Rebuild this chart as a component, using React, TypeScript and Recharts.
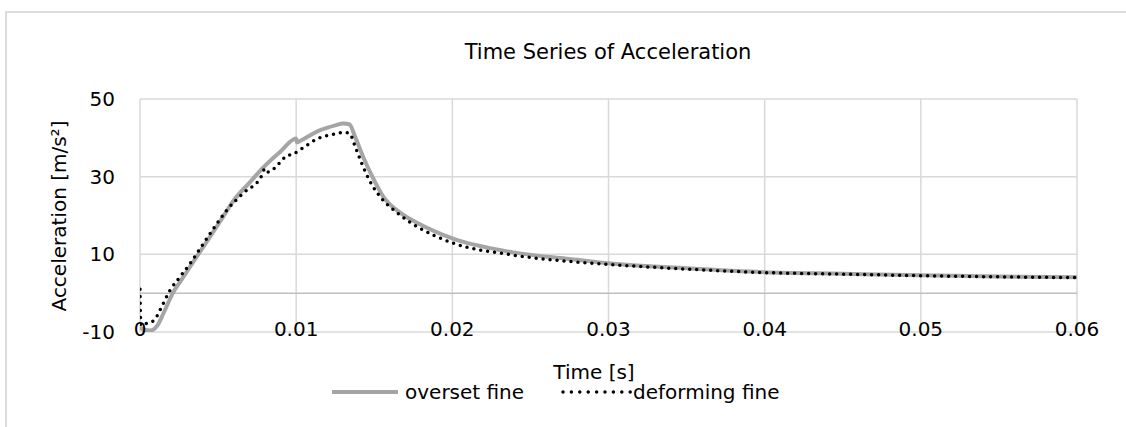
import { CartesianGrid, Label, Legend, Line, LineChart, ReferenceLine, XAxis, YAxis } from "recharts";

const FONT = "'DejaVu Sans', sans-serif";
const GRID = "#d9d9d9";
const COLORS = ["#a5a5a5", "#000000"];

const SERIES_NAMES = ["overset fine", "deforming fine"];
const X_TICKS = [0, 0.01, 0.02, 0.03, 0.04, 0.05, 0.06];
const Y_TICKS = [-10, 10, 30, 50];

// overset mesh, fine resolution
const oversetTime = [
  0, 0.0003, 0.0007, 0.0011, 0.0015, 0.0021, 0.0028, 0.0034, 0.0043, 0.0052,
  0.006, 0.007, 0.0079, 0.009, 0.01, 0.01005, 0.0103, 0.0115, 0.0125, 0.013,
  0.0134, 0.0138, 0.0143, 0.0149, 0.0156, 0.0167, 0.0178, 0.02, 0.0239, 0.028,
  0.03, 0.035, 0.04, 0.045, 0.05, 0.055, 0.06,
];
const oversetAccel = [
  -8.8, -9.5, -9.6, -8.4, -5.2, 0, 4.3, 8, 13.4, 18.9, 23.9, 28.4, 32.4, 36.5,
  39.8, 38.8, 39.3, 41.9, 43.2, 43.7, 43.5, 40, 35, 29.8, 24.7, 20.6, 18, 14.1,
  10.5, 8.6, 7.7, 6.4, 5.4, 5.0, 4.6, 4.3, 4.1,
];

// deforming mesh, fine resolution
const deformingTime = [
  0, 0.00005, 0.0004, 0.0009, 0.0013, 0.0019, 0.0026, 0.0032, 0.0037, 0.0046,
  0.0056, 0.0066, 0.0078, 0.008, 0.0082, 0.009, 0.0094, 0.0098, 0.0102, 0.0115,
  0.0125, 0.013, 0.0134, 0.0138, 0.0142, 0.0147, 0.0154, 0.0165, 0.0178, 0.0199,
  0.0239, 0.028, 0.03, 0.035, 0.04, 0.045, 0.05, 0.055, 0.06,
];
const deformingAccel = [
  1, -8.3, -7.8, -7.0, -4.2, 0.6, 4.4, 7.6, 10.6, 16.0, 21.6, 25.7, 30.3,
  32.1, 31.2, 33.8, 35.4, 35.8, 36.8, 40, 41, 41.4, 41.2, 37.5, 33.4, 29, 24.7,
  20.6, 17, 13.1, 9.8, 8.0, 7.4, 6.2, 5.3, 4.9, 4.5, 4.2, 4.0,
];

const oversetData = oversetTime.map((t, i) => ({ t, a: oversetAccel[i] }));
const deformingData = deformingTime.map((t, i) => ({ t, a: deformingAccel[i] }));

const XTick = ({ x, y, payload }: any) => (
  <text x={x} y={y + 4} textAnchor="middle" fill="#000" fontSize={20} fontFamily={FONT}>
    {String(payload.value)}
  </text>
);

const renderLegend = () => (
  <svg width={1126} height={30}>
    <line x1={332} x2={398} y1={14} y2={14} stroke={COLORS[0]} strokeWidth={4} />
    <text x={405} y={21} fontSize={20} fontFamily={FONT} fill="#000">
      {SERIES_NAMES[0]}
    </text>
    <line
      x1={563}
      x2={631}
      y1={14}
      y2={14}
      stroke={COLORS[1]}
      strokeWidth={3.5}
      strokeDasharray="0 8.4"
      strokeLinecap="round"
    />
    <text x={633} y={21} fontSize={20} fontFamily={FONT} fill="#000">
      {SERIES_NAMES[1]}
    </text>
  </svg>
);

export default function App() {
  return (
    <div
      style={{
        position: "absolute",
        left: 0,
        top: 0,
        width: 1126,
        height: 427,
        overflow: "hidden",
        background: "#fff",
        fontFamily: FONT,
      }}
    >
      <div
        style={{
          position: "absolute",
          left: 5,
          top: 11,
          width: 1200,
          height: 500,
          border: "2px solid #dcdcdc",
        }}
      />
      <div
        style={{
          position: "absolute",
          left: 608,
          top: 39,
          transform: "translateX(-50%)",
          fontSize: 21,
          lineHeight: "26px",
          whiteSpace: "nowrap",
          color: "#000",
        }}
      >
        Time Series of Acceleration
      </div>
      <div style={{ position: "absolute", left: 0, top: 0 }}>
        <LineChart width={1126} height={427} margin={{ top: 99, right: 49, bottom: 65, left: 0 }}>
          <CartesianGrid stroke={GRID} strokeWidth={1.5} />
          <XAxis
            type="number"
            dataKey="t"
            domain={[0, 0.06]}
            ticks={X_TICKS}
            axisLine={false}
            tickLine={false}
            tickSize={0}
            tickMargin={0}
            height={30}
            tick={<XTick />}
            allowDataOverflow
          >
            <Label
              content={() => (
                <text x={594} y={379} textAnchor="middle" fontSize={20} fontFamily={FONT} fill="#000">
                  Time [s]
                </text>
              )}
            />
          </XAxis>
          <YAxis
            type="number"
            domain={[-10, 50]}
            ticks={Y_TICKS}
            width={140}
            axisLine={false}
            tickLine={false}
            tickSize={0}
            tickMargin={25}
            tick={{ fill: "#000", fontSize: 20, fontFamily: FONT }}
            allowDataOverflow
          >
            <Label
              content={() => (
                <text
                  x={59}
                  y={216}
                  transform="rotate(-90, 59, 216)"
                  textAnchor="middle"
                  dominantBaseline="central"
                  fontSize={20}
                  fontFamily={FONT}
                  fill="#000"
                >
                  Acceleration [m/s²]
                </text>
              )}
            />
          </YAxis>
          <ReferenceLine y={0} stroke="#bfbfbf" strokeWidth={1.5} />
          <Line
            data={oversetData}
            dataKey="a"
            name={SERIES_NAMES[0]}
            type="monotone"
            stroke={COLORS[0]}
            strokeWidth={4}
            strokeLinejoin="round"
            dot={false}
            activeDot={false}
            isAnimationActive={false}
          />
          <Line
            data={deformingData}
            dataKey="a"
            name={SERIES_NAMES[1]}
            type="monotone"
            stroke={COLORS[1]}
            strokeWidth={3.5}
            strokeDasharray="0 7"
            strokeLinecap="round"
            dot={false}
            activeDot={false}
            isAnimationActive={false}
          />
          <Legend
            layout="horizontal"
            verticalAlign="middle"
            align="center"
            content={renderLegend}
            wrapperStyle={{ top: 378, left: 0, width: 1126, height: 30 }}
          />
        </LineChart>
      </div>
    </div>
  );
}
